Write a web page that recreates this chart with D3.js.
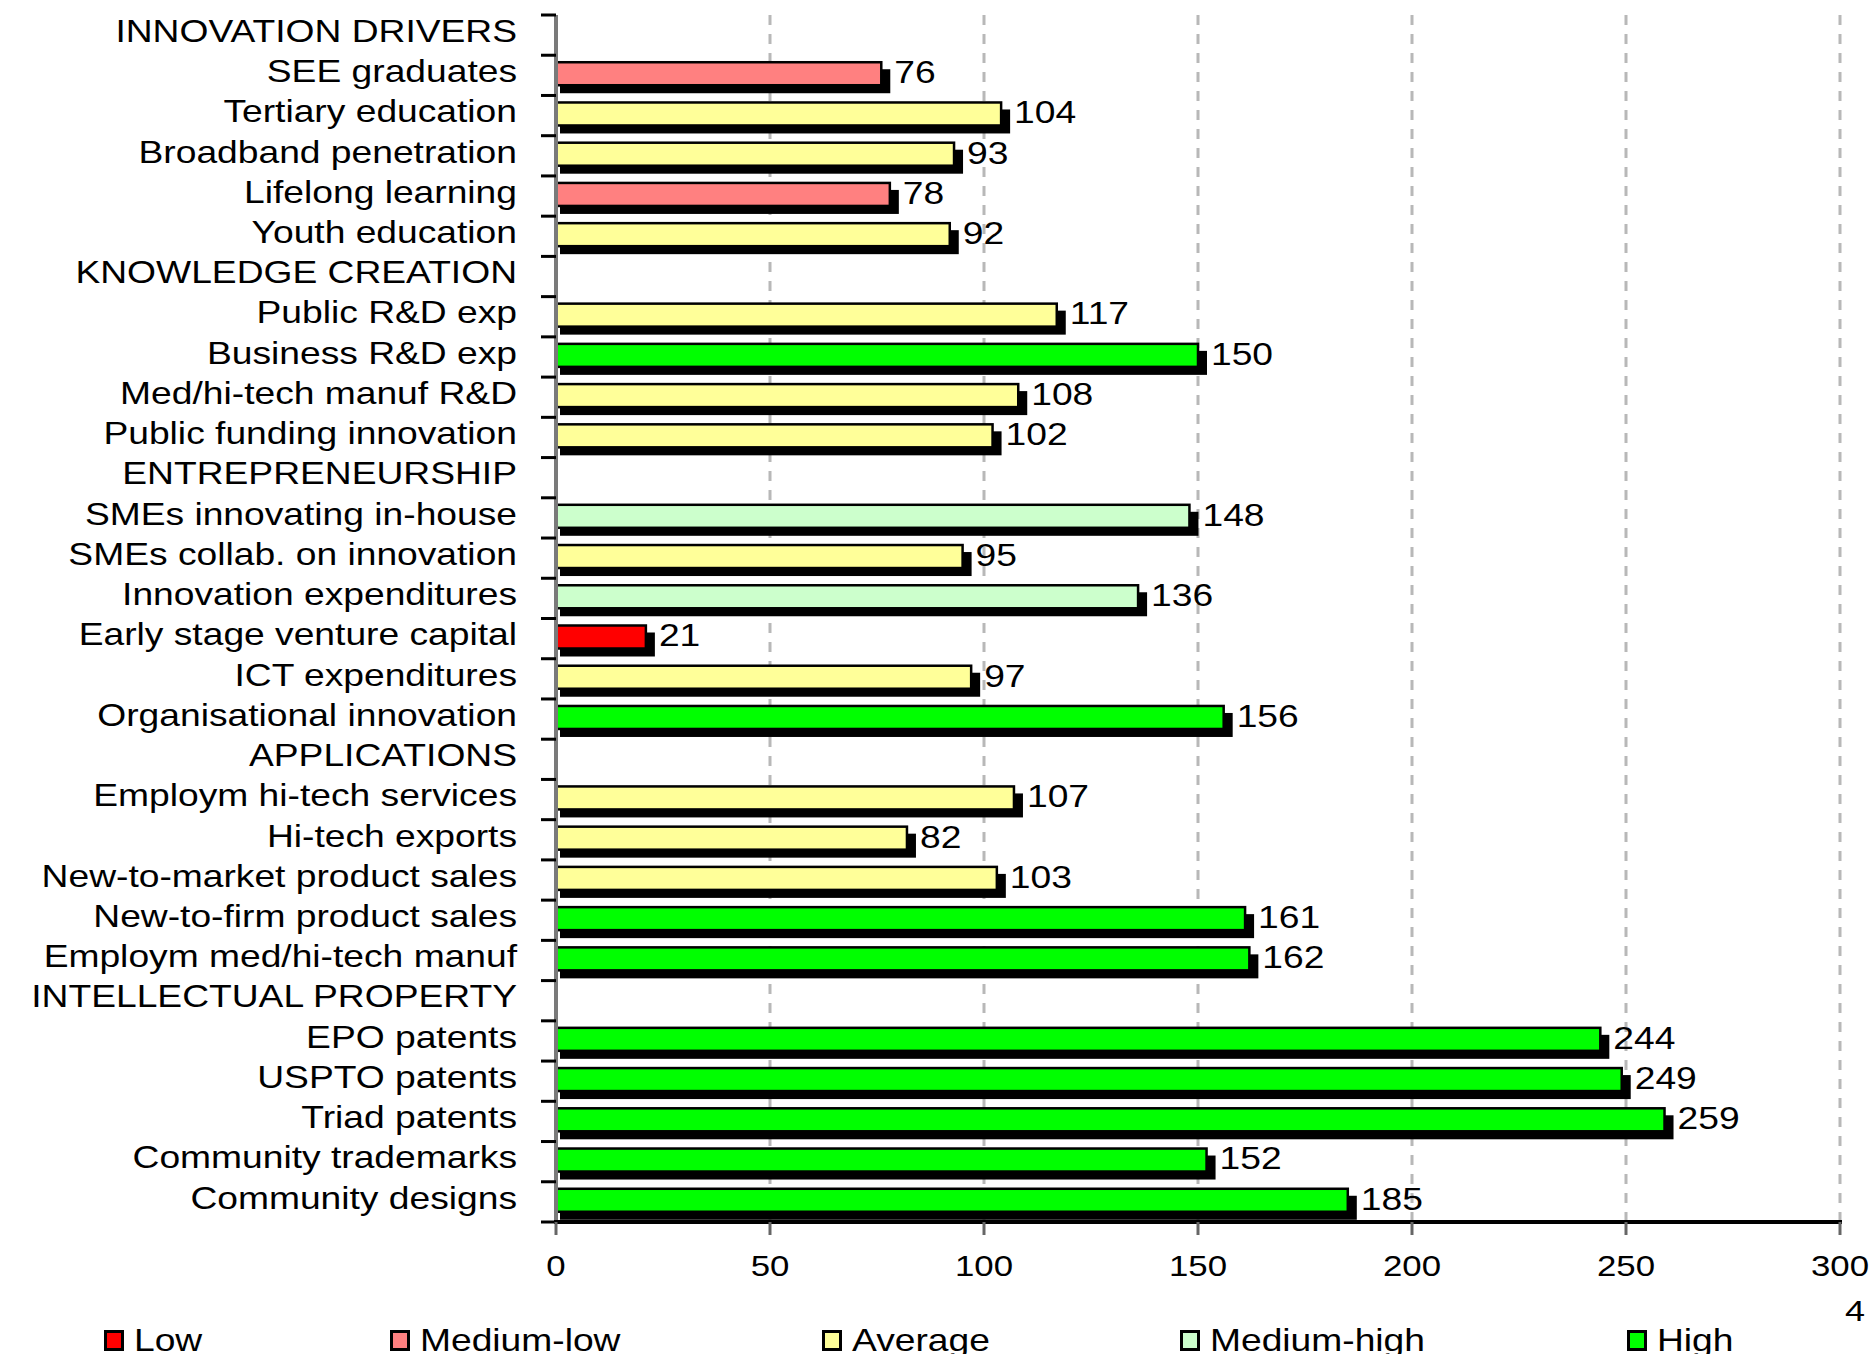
<!DOCTYPE html>
<html>
<head>
<meta charset="utf-8">
<script src="https://cdnjs.cloudflare.com/ajax/libs/d3/7.8.5/d3.min.js"></script>
<style>
  html, body { margin: 0; padding: 0; background: #fff; }
  svg { display: block; }
  text { font-family: "Liberation Sans", Arial, sans-serif; fill: #000; }
</style>
</head>
<body>
<div id="chart"></div>
<script>
// Innovation performance bar chart (index, EU = 100)
const categories = [
  'INNOVATION DRIVERS', 'SEE graduates', 'Tertiary education', 'Broadband penetration',
  'Lifelong learning', 'Youth education',
  'KNOWLEDGE CREATION', 'Public R&D exp', 'Business R&D exp', 'Med/hi-tech manuf R&D',
  'Public funding innovation',
  'ENTREPRENEURSHIP', 'SMEs innovating in-house', 'SMEs collab. on innovation',
  'Innovation expenditures', 'Early stage venture capital', 'ICT expenditures',
  'Organisational innovation',
  'APPLICATIONS', 'Employm hi-tech services', 'Hi-tech exports', 'New-to-market product sales',
  'New-to-firm product sales', 'Employm med/hi-tech manuf',
  'INTELLECTUAL PROPERTY', 'EPO patents', 'USPTO patents', 'Triad patents',
  'Community trademarks', 'Community designs'
];
const values = [
  null, 76, 104, 93, 78, 92,
  null, 117, 150, 108, 102,
  null, 148, 95, 136, 21, 97, 156,
  null, 107, 82, 103, 161, 162,
  null, 244, 249, 259, 152, 185
];
const levels = [
  null, 'Medium-low', 'Average', 'Average', 'Medium-low', 'Average',
  null, 'Average', 'High', 'Average', 'Average',
  null, 'Medium-high', 'Average', 'Medium-high', 'Low', 'Average', 'High',
  null, 'Average', 'Average', 'Average', 'High', 'High',
  null, 'High', 'High', 'High', 'High', 'High'
];
const levelNames = ['Low', 'Medium-low', 'Average', 'Medium-high', 'High'];
const levelColors = ['#ff0000', '#ff8080', '#ffff99', '#ccffcc', '#00ff00'];
const xTicks = [0, 50, 100, 150, 200, 250, 300];
const pageNumber = '4';

// layout
const W = 1873, H = 1354;
const plotL = 556, plotR = 1840, plotT = 15, plotB = 1222;
const sx = 1.2;            // old bitmap text looks horizontally stretched
const fontSize = 31;
const legendX = [104, 390, 822, 1180, 1627];

const svg = d3.select('#chart').append('svg')
  .attr('width', W)
  .attr('height', H)
  .style('background', '#fff');

const x = d3.scaleLinear().domain([0, 300]).range([plotL, plotR]);
const y = d3.scaleBand().domain(categories).range([plotT, plotB]).padding(0);
const color = d3.scaleOrdinal().domain(levelNames).range(levelColors);

// dashed gridlines
svg.append('g')
  .selectAll('line')
  .data(xTicks.filter(d => d > 0))
  .join('line')
  .attr('x1', d => x(d)).attr('x2', d => x(d))
  .attr('y1', plotT).attr('y2', plotB)
  .attr('stroke', '#b8b8b8')
  .attr('stroke-width', 3)
  .attr('stroke-dasharray', '10,9');

const rows = categories.map((c, i) => ({ c, v: values[i], lvl: levels[i] }))
  .filter(d => d.v !== null);

// shadows
svg.append('g')
  .selectAll('rect')
  .data(rows)
  .join('rect')
  .attr('x', x(0) + 4)
  .attr('y', d => y(d.c) + 14)
  .attr('width', d => x(d.v) - x(0) + 5)
  .attr('height', 24)
  .attr('fill', '#000');

// bars
svg.append('g')
  .selectAll('rect')
  .data(rows)
  .join('rect')
  .attr('x', x(0))
  .attr('y', d => y(d.c) + 7)
  .attr('width', d => x(d.v) - x(0))
  .attr('height', 23)
  .attr('fill', d => color(d.lvl))
  .attr('stroke', '#000')
  .attr('stroke-width', 2.5);

// value labels
svg.append('g')
  .selectAll('text')
  .data(rows)
  .join('text')
  .attr('transform', d => `translate(${x(d.v) + 13},${y(d.c) + 17}) scale(${sx},1)`)
  .attr('dominant-baseline', 'central')
  .style('font-size', fontSize + 'px')
  .text(d => d.v);

// category axis
svg.append('line')
  .attr('x1', plotL).attr('x2', plotL)
  .attr('y1', plotT).attr('y2', plotB)
  .attr('stroke', '#7a7a7a')
  .attr('stroke-width', 4);

svg.append('g')
  .selectAll('line')
  .data(categories.concat(['_end']))
  .join('line')
  .attr('x1', plotL - 15).attr('x2', plotL)
  .attr('y1', d => d === '_end' ? plotB : y(d))
  .attr('y2', d => d === '_end' ? plotB : y(d))
  .attr('stroke', '#000')
  .attr('stroke-width', 3);

svg.append('g')
  .selectAll('text')
  .data(categories)
  .join('text')
  .attr('transform', d => `translate(517,${y(d) + 16}) scale(${sx},1)`)
  .attr('text-anchor', 'end')
  .attr('dominant-baseline', 'central')
  .style('font-size', fontSize + 'px')
  .text(d => d);

// value axis
svg.append('line')
  .attr('x1', plotL - 2).attr('x2', plotR + 2)
  .attr('y1', plotB).attr('y2', plotB)
  .attr('stroke', '#000')
  .attr('stroke-width', 4);

svg.append('g')
  .selectAll('line')
  .data(xTicks)
  .join('line')
  .attr('x1', d => x(d)).attr('x2', d => x(d))
  .attr('y1', plotB).attr('y2', plotB + 13)
  .attr('stroke', '#666')
  .attr('stroke-width', 3);

svg.append('g')
  .selectAll('text')
  .data(xTicks)
  .join('text')
  .attr('transform', d => `translate(${x(d)},1266) scale(${sx},1)`)
  .attr('text-anchor', 'middle')
  .attr('dominant-baseline', 'central')
  .style('font-size', '29px')
  .text(d => d);

// page number
svg.append('text')
  .attr('transform', `translate(1855,1321) scale(${sx},1)`)
  .attr('text-anchor', 'middle')
  .style('font-size', '30px')
  .text(pageNumber);

// legend
const lg = svg.append('g')
  .selectAll('g')
  .data(levelNames)
  .join('g')
  .attr('transform', (d, i) => `translate(${legendX[i]},1330)`);

lg.append('rect')
  .attr('x', 1.5).attr('y', 1.5)
  .attr('width', 17).attr('height', 18)
  .attr('fill', d => color(d))
  .attr('stroke', '#000')
  .attr('stroke-width', 3);

lg.append('text')
  .attr('transform', `translate(30,21) scale(${sx},1)`)
  .style('font-size', fontSize + 'px')
  .text(d => d);
</script>
</body>
</html>
